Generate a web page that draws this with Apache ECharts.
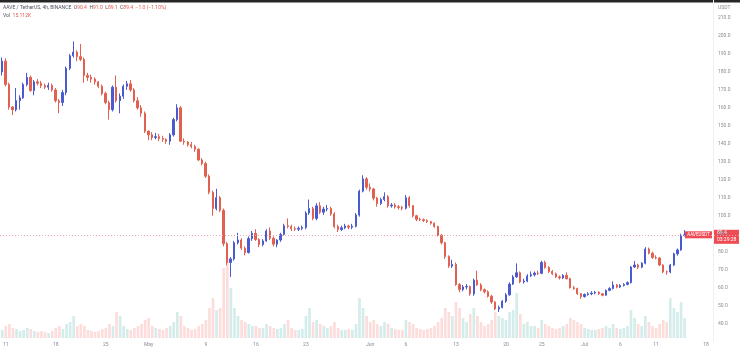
<!DOCTYPE html>
<html>
<head>
<meta charset="utf-8">
<script src="https://cdn.jsdelivr.net/npm/echarts@6/dist/echarts.min.js"></script>
<style>
  html, body { margin: 0; padding: 0; background: #fff; }
  #chart { width: 740px; height: 352px; }
</style>
</head>
<body>
<div id="chart"></div>
<script>
const candles = [
  [180,186,178,188],[186,173,172,187.5],[173,160.5,159,174],[160.5,159,156,161],[159,164,158,171],
  [164,165.6,159,167],[165.6,173,165,174],[173,177,172,179.5],[177,169.6,169,178],[169.6,174.5,167,175.5],
  [174.5,173.7,172.5,176],[173.7,172.4,171,175],[172.4,171.5,170.5,173.5],[171.5,172.5,170,174],[172.5,170,169,173.5],
  [170,164,163,171],[164,163,157,165],[163,168.5,161,170],[168.5,182,167,183],[182,189,181,190],
  [189,191,188,197],[191,188.5,186,192],[188.5,187,186,195.5],[187,178,174,188],[178,177,175,179.5],
  [177,176,174,178.5],[176,174.5,173,177],[174.5,172,171,175],[172,168,167,173],[168,163,162,169],
  [163,159,153.5,164],[159,171.5,158,172.5],[171.5,164,163,178],[164,166.5,157,168],[166.5,172,165,173],
  [172,173.4,170,175],[173.4,170,169,175.5],[170,164,163,171],[164,160,159,166],[160,157,155,161.5],
  [157,147,146,158],[147,145,142,147.5],[145,143.5,142,146.5],[143.5,144,142.5,146],[144,143,141.5,145.5],
  [143,142.5,141,144.5],[142.5,141.5,140,143],[141.5,145,139.5,146],[145,153.5,144,154.5],[153.5,160,152.5,162],
  [160,141.5,141,161],[141.5,141,139.5,143],[141,139.5,138.5,141.5],[139.5,138.5,137.5,141],[138.5,137,135.5,139.5],
  [137,131,130.5,137.5],[131,129,128,132],[129,122,121,130],[122,113,112,123],[113,104,100,114],
  [104,110,103,115],[110,103,102,111],[103,84.5,83,104],[84.5,74,72.5,85.5],[74,76,66,77],
  [76,85,75,86],[85,86.5,84,90.5],[86.5,82,81,87.5],[82,79.5,78,83],[79.5,87.3,79,88.5],
  [87.3,90.2,86,91.5],[90.2,86.8,86,92.5],[86.8,84,82.5,87.5],[84,86,83,87],[86,91.5,85.5,92.5],
  [91.5,87.5,86.5,93.5],[87.5,84.2,83,88.5],[84.2,86.5,82.5,87],[86.5,89.6,85.5,90.5],[89.6,94.4,89,95.5],
  [94.4,94,93,98.5],[94,92.8,91.5,95],[92.8,92.5,91.5,94],[92.5,93,91.5,94],[93,93.5,92,94.5],
  [93.5,101.5,92.5,102.5],[101.5,104,100.5,109],[104,98.5,97.5,105],[98.5,105.5,97.5,107],[105.5,102,101,107.5],
  [102,103.7,100.5,105],[103.7,104,102.5,106],[104,101,100,105],[101,94,93,102],[94,92.3,91,95],
  [92.3,93.3,91.5,94.5],[93.3,94.3,92.5,95.5],[94.3,93.6,92.5,95],[93.6,94.2,92.5,95.5],[94.2,100.4,93.5,101.5],
  [100.4,113.7,99.5,114.5],[113.7,120.5,113,122.5],[120.5,115.8,114.5,121.5],[115.8,114.9,113.5,118],[114.9,109.8,108.5,115.5],
  [109.8,106.8,105,110.5],[106.8,109,106,110],[109,110.6,108,113],[110.6,105.5,104.5,111.5],[105.5,106,104.5,107],
  [106,105,104,107],[105,104.6,103.5,106],[104.6,104.2,103,105.5],[104.2,110,103.5,111.5],[110,105.6,104.5,111],
  [105.6,100,99,106],[100,98,97,100.5],[98,97.8,97,99],[97.8,97.3,96.5,98.5],[97.3,96.7,96,98],
  [96.7,95.8,95,97.2],[95.8,94,93.3,96.3],[94,89.2,88.5,94.5],[89.2,85,84,89.8],[85,77.3,76,85.5],
  [77.3,72,71,78],[72,73,71,75.5],[73,61.8,61,74],[61.8,59,57.5,62.5],[59,60.4,58,61.5],
  [60.4,60.6,59,62],[60.6,56.6,55.5,61.2],[56.6,64.2,55.5,65],[64.2,61.5,61,69.5],[61.5,58.9,58,62.5],
  [58.9,57.7,56.8,59.5],[57.7,55.2,54.5,58.5],[55.2,52,51,56],[52,48.2,47.5,52.5],[48.2,49,46.5,50],
  [49,52.5,48.5,53],[52.5,56,51.5,57],[56,62,55.5,63],[62,66,61.5,67],[66,68.3,65.5,73.5],
  [68.3,63.2,62.5,69],[63.2,63.7,62.3,65],[63.7,66.5,63,67.5],[66.5,67.2,66,69],[67.2,68.1,66.2,69],
  [68.1,68,67,69.5],[68,74,67.5,75],[74,71.2,70.5,75],[71.2,69,68.2,72],[69,67.7,67,69.8],
  [67.7,66,65.4,68.4],[66,65.4,64.5,66.8],[65.4,66.8,64.8,67.5],[66.8,65,64.5,68.5],[65,60,59.5,65.5],
  [60,59.5,58.8,61],[59.5,56.6,56,60],[56.6,55,53.8,57],[55,56.2,54.5,56.8],[56.2,56.6,55.5,57.5],
  [56.6,57,55.8,58],[57,57.4,56.3,58.2],[57.4,56.6,56,58],[56.6,55.8,55.2,57],[55.8,58.5,55.5,59],
  [58.5,59.5,58,60.3],[59.5,61.5,59,63.5],[61.5,60.3,59.6,62],[60.3,61.2,59.8,62],[61.2,61.8,60.6,62.5],
  [61.8,62.8,61.3,63.5],[62.8,71.5,62.3,72],[71.5,72.6,71,74.8],[72.6,71.4,70.3,73.3],[71.4,73.6,70.8,74.2],
  [73.6,81.5,73,82.5],[81.5,79.2,78.5,82.3],[79.2,76.8,76,80],[76.8,76.5,75.8,78],[76.5,72.6,72,77],
  [72.6,68.8,68,73],[68.8,68.7,67.2,69.5],[68.7,72.6,68,73.2],[72.6,78.8,72,79.5],[78.8,81,77.8,81.8],
  [81,89,80.5,90],[89,89.4,88.5,92]
];

// volume per candle (K)
const volumes = [
  8,12,14,10,9,7,8,10,9,7, 6,7,6,5,7,10,12,9,14,16,
  22,12,14,12,8,7,6,7,9,10, 14,12,26,22,12,9,8,10,12,14,
  18,20,12,10,9,8,10,12,16,26, 22,12,10,8,9,12,14,18,30,40,
  28,30,70,80,50,30,22,18,16,14, 12,12,10,10,14,12,10,9,10,14,
  18,10,8,8,9,22,30,16,18,14, 12,10,12,16,10,8,8,9,8,14,
  40,30,22,16,18,14,12,16,14,10, 9,8,8,18,16,14,10,9,8,9,
  10,12,16,20,30,26,22,36,30,20, 16,24,30,22,16,12,14,18,26,22,
  20,18,26,28,45,24,14,16,12,12, 10,18,14,12,10,9,10,12,14,20,
  18,16,14,10,9,8,8,9,10,12, 10,14,10,9,10,12,28,20,14,12,
  22,16,12,10,14,18,16,40,30,26, 36,20
];

// time axis: 12h periods from 10 Apr 12:00, label positions
const periodCount = 207;
const tickIndex = [1, 15, 29, 41, 57, 71, 85, 103, 113, 127, 141, 151, 163, 173, 183, 197];
const tickText = ['11', '18', '25', 'May', '9', '16', '23', 'Jun', '6', '13', '20', '25', 'Jul', '6', '11', '18'];

const UP = '#4a5bd2';
const DOWN = '#e2604f';
const VOL_UP = 'rgba(38,166,154,0.2)';
const VOL_DOWN = 'rgba(239,83,80,0.2)';
const TXT = '#8a8d96';
const FONT = 'Roboto';

const periods = Array.from({ length: periodCount }, (_, i) => String(i));
const lastClose = candles[candles.length - 1][1];

const chart = echarts.init(document.getElementById('chart'));

chart.setOption({
  animation: false,
  backgroundColor: '#fff',
  textStyle: { fontFamily: FONT },
  grid: [
    { left: -1, right: 0, top: -2.1, bottom: 10.4 },
    { left: -1, right: 0, top: 238, bottom: 14 }
  ],
  xAxis: [
    {
      type: 'category', gridIndex: 0, data: periods,
      axisLine: { show: false }, axisTick: { show: false }, axisLabel: { show: false }, splitLine: { show: false }
    },
    {
      type: 'category', gridIndex: 1, data: periods,
      axisLine: { show: false }, axisTick: { show: false }, splitLine: { show: false },
      axisLabel: {
        color: TXT, fontSize: 5, margin: 4, hideOverlap: false,
        interval: (idx) => tickIndex.includes(idx),
        formatter: (v, idx) => {
          const k = tickIndex.indexOf(idx)
          return k >= 0 ? tickText[k] : ''
        }
      }
    }
  ],
  yAxis: [
    {
      type: 'value', gridIndex: 0, position: 'right', offset: -27,
      min: 30, max: 220, interval: 10,
      axisLine: { show: true, lineStyle: { color: '#eef0f3' } },
      axisTick: { show: false },
      splitLine: { show: false },
      axisLabel: {
        color: TXT, fontSize: 5, margin: 5,
        formatter: v => (v < 40 || v > 210) ? '' : v.toFixed(1)
      }
    },
    { type: 'value', gridIndex: 1, min: 0, max: 100, show: false }
  ],
  series: [
    {
      type: 'bar', xAxisIndex: 1, yAxisIndex: 1, z: 1,
      barWidth: '75%',
      data: volumes.map((v, i) => ({
        value: v,
        itemStyle: { color: candles[i][1] >= candles[i][0] ? VOL_UP : VOL_DOWN }
      }))
    },
    {
      type: 'candlestick', xAxisIndex: 0, yAxisIndex: 0, z: 3,
      barWidth: '50%',
      data: candles,
      itemStyle: { color: UP, color0: DOWN, borderColor: UP, borderColor0: DOWN, borderWidth: 1 },
      markLine: {
        silent: true, symbol: 'none',
        label: { show: false },
        lineStyle: { color: '#f3a3a9', type: [1, 2], width: 1 },
        data: [{ yAxis: lastClose }]
      }
    }
  ]
})

// header, price scale unit and the last-price tag
const yPx = chart.convertToPixel({ yAxisIndex: 0 }, lastClose)
chart.setOption({
  graphic: [
    { type: 'rect', left: 0, top: 0, shape: { width: 740, height: 2.5 }, style: { fill: '#262626' } },
    {
      type: 'text', x: 3, y: 5,
      style: {
        text: '{t|AAVE / TetherUS, 4h, BINANCE}  {k|O}{v|90.4}  {k|H}{v|91.0}  {k|L}{v|89.1}  {k|C}{v|89.4}  {v|\u22121.0 (\u22121.10%)}',
        font: '5px ' + FONT,
        rich: {
          t: { fill: '#50535e', fontSize: 5, fontFamily: FONT },
          k: { fill: '#50535e', fontSize: 5, fontFamily: FONT },
          v: { fill: '#e0584e', fontSize: 5, fontFamily: FONT }
        }
      }
    },
    {
      type: 'text', x: 3, y: 13,
      style: {
        text: '{k|Vol}  {v|15.112K}',
        font: '5px ' + FONT,
        rich: {
          k: { fill: '#50535e', fontSize: 5, fontFamily: FONT },
          v: { fill: '#e0584e', fontSize: 5, fontFamily: FONT }
        }
      }
    },
    { type: 'text', x: 718, y: 5, style: { text: 'USDT', fill: TXT, font: '5px ' + FONT } },
    { type: 'rect', x: 685, y: yPx - 3.5, shape: { width: 27, height: 7 }, style: { fill: '#ef4b55' } },
    {
      type: 'text', x: 698.5, y: yPx, style: {
        text: 'AAVEUSDT', fill: '#fff', font: '4.5px ' + FONT, align: 'center', verticalAlign: 'middle'
      }
    },
    { type: 'rect', x: 713, y: yPx - 5, shape: { width: 26, height: 14 }, style: { fill: '#ef4b55' } },
    {
      type: 'text', x: 717, y: yPx - 2.5, style: {
        text: lastClose.toFixed(1), fill: '#fff', font: '5px ' + FONT, verticalAlign: 'middle'
      }
    },
    {
      type: 'text', x: 717, y: yPx + 4.5, style: {
        text: '03:29:28', fill: '#fff', font: '5px ' + FONT, verticalAlign: 'middle'
      }
    }
  ]
})
</script>
</body>
</html>
